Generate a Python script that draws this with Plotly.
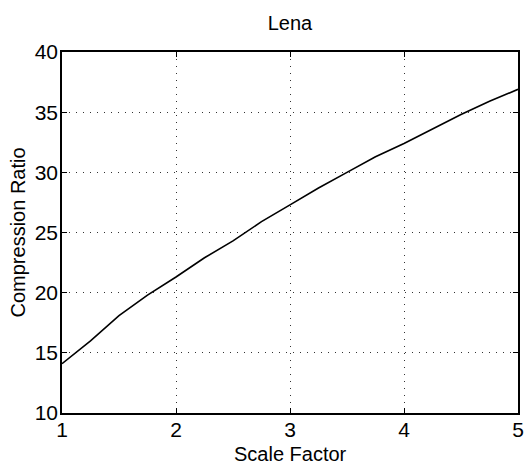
import plotly.graph_objects as go

scale_factor = [1.0, 1.25, 1.5, 1.75, 2.0, 2.25, 2.5, 2.75, 3.0, 3.25, 3.5, 3.75, 4.0, 4.25, 4.5, 4.75, 5.0]
compression_ratio = [14.1, 16.0, 18.1, 19.8, 21.3, 22.9, 24.3, 25.9, 27.3, 28.7, 30.0, 31.3, 32.4, 33.6, 34.8, 35.9, 36.9]
x_ticks = [1, 2, 3, 4, 5]
y_ticks = [10, 15, 20, 25, 30, 35, 40]

fig = go.Figure()
fig.add_trace(go.Scatter(x=scale_factor, y=compression_ratio, mode="lines",
                         line=dict(color="black", width=1.6), showlegend=False))

font_family = "Liberation Sans, Arial, Helvetica, sans-serif"
axis_common = dict(
    showline=True, linecolor="black", linewidth=1.5, mirror="ticks",
    ticks="inside", ticklen=5, tickwidth=1, tickcolor="black",
    showgrid=True, gridcolor="#333333", griddash="1px,6px", gridwidth=1,
    zeroline=False, automargin=False,
    tickfont=dict(family=font_family, size=21, color="black"),
)

fig.update_layout(
    width=528, height=466,
    margin=dict(l=62, r=10, t=52, b=53),
    paper_bgcolor="white", plot_bgcolor="white",
    title=dict(text="Lena", x=0.5, xanchor="center", xref="paper",
               y=1 - 23 / 466, yanchor="middle",
               font=dict(family=font_family, size=20, color="black")),
    xaxis=dict(range=[1, 5], tickvals=x_ticks, ticktext=[str(v) for v in x_ticks],
               ticklabelstandoff=-3, **axis_common),
    yaxis=dict(range=[10, 40], tickvals=y_ticks, ticktext=[str(v) for v in y_ticks],
               ticklabelstandoff=-2, **axis_common),
    annotations=[
        dict(text="Scale Factor", xref="paper", yref="paper", x=0.5, y=(413 - 454) / 361,
             xanchor="center", yanchor="middle", showarrow=False,
             font=dict(family=font_family, size=20, color="black")),
        dict(text="Compression Ratio", xref="paper", yref="paper", x=(17 - 62) / 456, y=0.5,
             xanchor="center", yanchor="middle", textangle=-90, showarrow=False,
             font=dict(family=font_family, size=20, color="black")),
    ],
)

fig.write_html("out.html", config={"displayModeBar": False},
               post_script="document.body.style.margin='0px';document.body.style.overflow='hidden';")
